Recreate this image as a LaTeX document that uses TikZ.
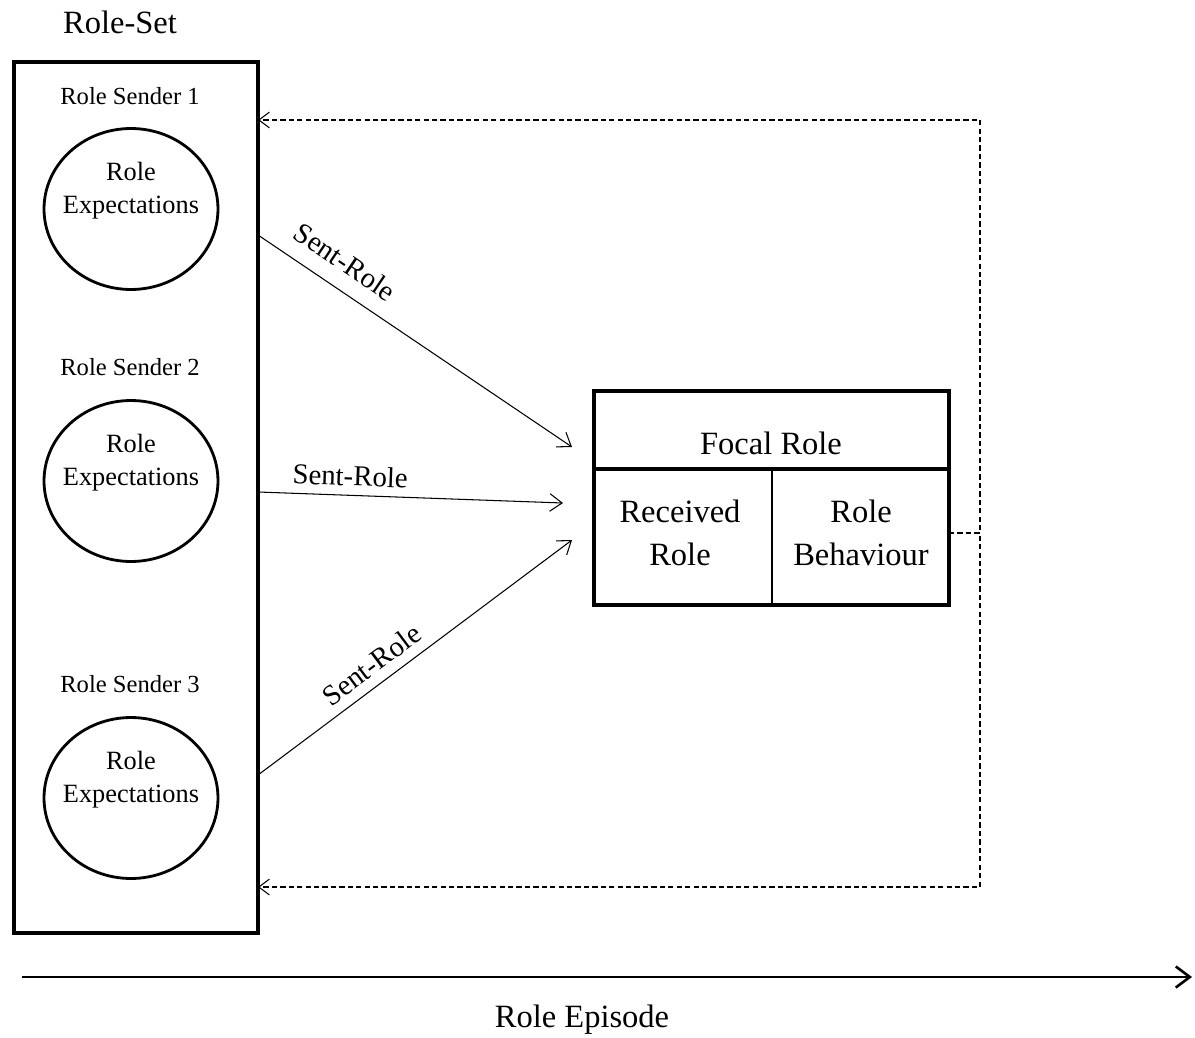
\documentclass[tikz,border=0pt]{standalone}
\usepackage{fontspec}
\setmainfont{Liberation Serif}
\usetikzlibrary{arrows.meta, shapes.geometric}

\begin{document}
\begin{tikzpicture}[x=0.02cm, y=-0.02cm,
    bigtext/.style={font=\fontsize{18.5}{24.5}\selectfont, align=center},
    sendertext/.style={font=\fontsize{14}{16}\selectfont},
    expecttext/.style={font=\fontsize{15}{18.8}\selectfont, align=center, inner sep=0pt},
    expectation/.style={draw, ellipse, line width=1.6pt, inner sep=0pt,
        minimum width=3.48cm, minimum height=3.22cm},
    sentrole/.style={line width=0.6pt, -{Straight Barb[length=7pt, width=10pt]}},
    sentlabel/.style={font=\fontsize{16.4}{18}\selectfont, sloped, inner sep=3pt},
    feedback/.style={line width=0.6pt, dash pattern=on 3pt off 1.8pt,
        -{Straight Barb[length=6pt, width=9pt]}}]
    \useasboundingbox (0,0) rectangle (1195,1037);

    % Role set with its three senders
    \node[bigtext] (settitle) at (120,22) {Role-Set};
    \draw[line width=2.2pt] (14,62) rectangle (258,933);

    \node[sendertext] (sender1) at (130,96) {Role Sender 1};
    \node[expectation] (exp1) at (131,209) {};
    \node[expecttext] (exptext1) at (131,191) {Role\\Expectations};

    \node[sendertext] (sender2) at (130,367) {Role Sender 2};
    \node[expectation] (exp2) at (131,481) {};
    \node[expecttext] (exptext2) at (131,463) {Role\\Expectations};

    \node[sendertext] (sender3) at (130,684) {Role Sender 3};
    \node[expectation] (exp3) at (131,798) {};
    \node[expecttext] (exptext3) at (131,780) {Role\\Expectations};

    % Focal role box
    \draw[line width=2.2pt] (594,391) rectangle (949,605);
    \draw[line width=2.2pt] (594,469) -- (949,469);
    \draw[line width=0.8pt] (772,469) -- (772,605);
    \node[bigtext] (focal) at (771,443) {Focal Role};
    \node[bigtext] (received) at (680,533) {Received\\Role};
    \node[bigtext] (behaviour) at (861,533) {Role\\Behaviour};

    % Sent roles
    \coordinate (out1) at (258,235);
    \coordinate (out2) at (258,492);
    \coordinate (out3) at (258,775);
    \coordinate (in1) at (572,447);
    \coordinate (in2) at (563,503);
    \coordinate (in3) at (572,540);
    \draw[sentrole] (out1) -- (in1) node[sentlabel, above=6pt, pos=0.23] {Sent-Role};
    \draw[sentrole] (out2) -- (in2) node[sentlabel, above=2pt, pos=0.3] {Sent-Role};
    \draw[sentrole] (out3) -- (in3) node[sentlabel, above=2.5pt, pos=0.4] {Sent-Role};

    % Feedback to the role set
    \coordinate (fb) at (949,533);
    \coordinate (fbtop) at (258,120);
    \coordinate (fbbottom) at (258,887);
    \draw[feedback] (fb) -- (980,533) |- (fbtop);
    \draw[feedback] (fb) -| (980,887) -- (fbbottom);

    % Time line
    \coordinate (tstart) at (22,977);
    \coordinate (tend) at (1192,977);
    \draw[line width=1.5pt, -{Straight Barb[length=8pt, width=12pt]}] (tstart) -- (tend);
    \node[bigtext] (episode) at (582,1020) {Role Episode};
\end{tikzpicture}
\end{document}
